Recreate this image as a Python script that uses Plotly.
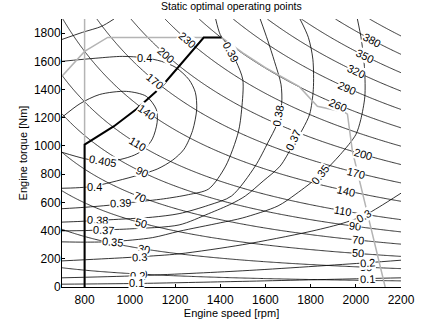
import math
import numpy as np
import plotly.graph_objects as go

# ---------------- data ----------------
speed_ticks = [800, 1000, 1200, 1400, 1600, 1800, 2000, 2200]
torque_ticks = [0, 200, 400, 600, 800, 1000, 1200, 1400, 1600, 1800]

# iso-power levels [kW]
power_levels_low = [10, 30, 50, 70, 90, 110]
power_levels_high = [140, 170, 200, 230, 260, 290, 320, 350, 380, 410]

# iso-efficiency lines (speed [rpm], torque [Nm])
eff_0405_speed = [700, 800, 880, 960, 1020, 1064, 1100, 1121, 1117, 1073, 985, 867, 780, 700]
eff_0405_torque = [955, 910, 890, 905, 935, 977, 1050, 1167, 1260, 1352, 1387, 1365, 1300, 1203]

eff_040_speed = [700, 760, 832, 917, 1020, 1121, 1190, 1240, 1278, 1296, 1290, 1262, 1204, 1140, 1065, 968, 850, 700]
eff_040_torque = [700, 703, 712, 742, 785, 836, 900, 977, 1110, 1260, 1380, 1470, 1556, 1600, 1625, 1635, 1622, 1600]

eff_039_speed = [700, 800, 910, 1011, 1150, 1260, 1349, 1424, 1480, 1495, 1500, 1470, 1430, 1400, 1380]
eff_039_torque = [555, 565, 580, 600, 625, 655, 695, 857, 1097, 1260, 1470, 1600, 1720, 1790, 1900]
eff_039b_speed = [700, 790, 875, 930]
eff_039b_torque = [1755, 1805, 1848, 1900]

eff_038_speed = [700, 780, 855, 950, 1100, 1218, 1349, 1450, 1555, 1612, 1650, 1672, 1669, 1640, 1610, 1577]
eff_038_torque = [460, 465, 472, 480, 495, 520, 580, 645, 857, 1027, 1150, 1300, 1437, 1600, 1750, 1900]

eff_037_speed = [700, 800, 882, 1000, 1218, 1349, 1450, 1511, 1590, 1665, 1720, 1765, 1796, 1812, 1810, 1790, 1753]
eff_037_torque = [398, 400, 405, 412, 440, 520, 590, 645, 751, 857, 1000, 1120, 1226, 1400, 1615, 1770, 1900]

eff_035_speed = [700, 800, 925, 1100, 1218, 1400, 1500, 1656, 1735, 1842, 1932, 2000, 2022, 2040, 2039, 2025, 2007]
eff_035_torque = [320, 318, 322, 350, 395, 455, 490, 575, 659, 792, 940, 1080, 1187, 1350, 1540, 1750, 1900]

eff_030_speed = [700, 968, 1050, 1218, 1500, 1788, 1932, 2035, 2103, 2200]
eff_030_torque = [185, 207, 215, 235, 300, 390, 447, 505, 567, 665]

eff_020_speed = [700, 1035, 1500, 2050, 2200]
eff_020_torque = [65, 80, 115, 172, 190]

eff_010_speed = [700, 1030, 1500, 2050, 2200]
eff_010_torque = [20, 25, 40, 60, 65]

# full-load envelope (grey) and static optimal operating line (black)
envelope_speed = [700, 800, 902, 1406, 1500, 1600, 1750, 1800, 1830, 1950, 1963, 1985, 2130]
envelope_torque = [1495, 1670, 1769, 1769, 1660, 1555, 1420, 1331, 1281, 1239, 1225, 963, 0]
idle_speed = [800, 800]
idle_torque = [0, 1900]
optimal_speed = [800, 800, 930, 1030, 1140, 1230, 1327, 1406]
optimal_torque = [0, 1010, 1140, 1262, 1420, 1590, 1769, 1769]

# contour label places
power_label_speeds = {
    10: [1050, 2040], 30: [1065, 2045], 50: [1050, 2010], 70: [1045, 2010],
    90: [1055, 1995], 110: [1035, 1945], 140: [1075, 1955], 170: [1110, 2000],
    200: [1160, 2030], 230: [1255], 260: [1920], 290: [1960], 320: [2000],
    350: [2040], 380: [2070],
}
eff_labels = [
    ("0.405", 880, 890, 10), ("0.4", 843, 712, 0), ("0.4", 1065, 1625, 0),
    ("0.39", 960, 597, -3), ("0.39", 1447, 1665, 62),
    ("0.38", 855, 474, 3), ("0.38", 1655, 1215, -80),
    ("0.37", 882, 405, 3), ("0.37", 1722, 1045, -65),
    ("0.35", 925, 322, 5), ("0.35", 1842, 792, -52),
    ("0.3", 1045, 212, -3), ("0.3", 2035, 505, -30),
    ("0.2", 1035, 80, 0), ("0.2", 2050, 172, -5),
    ("0.1", 1030, 28, 0), ("0.1", 2050, 60, -3),
]

# ---------------- figure ----------------
X_RANGE = [700, 2200]
Y_RANGE = [0, 1900]
W, H = 427, 327
ML, MR, MT, MB = 62, 23, 19, 39
PLOT_H = H - MT - MB
px_per_rpm = (W - ML - MR) / (X_RANGE[1] - X_RANGE[0])
px_per_nm = PLOT_H / (Y_RANGE[1] - Y_RANGE[0])

FONT = "Liberation Sans, Arial, Helvetica, sans-serif"
fig = go.Figure()

# iso-power lines: P = 2*pi*n*T/60 / 1000
grid_speed = np.linspace(700, 2200, 301)
grid_torque = np.linspace(0, 1900, 381)
S, T = np.meshgrid(grid_speed, grid_torque)
power_kw = 2 * np.pi * S * T / 60.0 / 1000.0

for levels in (power_levels_low, power_levels_high):
    fig.add_trace(go.Contour(
        x=grid_speed, y=grid_torque, z=power_kw,
        contours=dict(coloring="lines", start=levels[0], end=levels[-1],
                      size=levels[1] - levels[0], showlabels=False),
        colorscale=[[0, "black"], [1, "black"]], showscale=False,
        line=dict(width=0.8), hoverinfo="skip",
    ))

eff_lines = [
    (eff_0405_speed, eff_0405_torque), (eff_040_speed, eff_040_torque),
    (eff_039_speed, eff_039_torque), (eff_039b_speed, eff_039b_torque),
    (eff_038_speed, eff_038_torque), (eff_037_speed, eff_037_torque),
    (eff_035_speed, eff_035_torque), (eff_030_speed, eff_030_torque),
    (eff_020_speed, eff_020_torque), (eff_010_speed, eff_010_torque),
]
for xs, ys in eff_lines:
    fig.add_trace(go.Scatter(x=xs, y=ys, mode="lines",
                             line=dict(color="black", width=0.8, shape="spline", smoothing=0.8),
                             hoverinfo="skip", showlegend=False))

fig.add_trace(go.Scatter(x=idle_speed, y=idle_torque, mode="lines",
                         line=dict(color="#b4b4b4", width=1.5), showlegend=False))
fig.add_trace(go.Scatter(x=envelope_speed, y=envelope_torque, mode="lines",
                         line=dict(color="#b4b4b4", width=1.5), showlegend=False))
fig.add_trace(go.Scatter(x=optimal_speed, y=optimal_torque, mode="lines",
                         line=dict(color="black", width=2), showlegend=False))

annotations = []
lab_font = dict(family=FONT, size=11, color="black")
for level, speeds in power_label_speeds.items():
    for n in speeds:
        tq = level * 1000 * 60 / (2 * math.pi * n)
        ang = math.degrees(math.atan(tq / n * px_per_nm / px_per_rpm))
        annotations.append(dict(x=n, y=tq, text=str(level), showarrow=False,
                                textangle=ang, font=lab_font, bgcolor="white",
                                borderpad=0, xanchor="center", yanchor="middle"))
for txt, n, tq, ang in eff_labels:
    annotations.append(dict(x=n, y=tq, text=txt, showarrow=False, textangle=ang,
                            font=lab_font, bgcolor="white", borderpad=0,
                            xanchor="center", yanchor="middle"))

# title as a paper annotation (centre about 6 px below the top edge)
annotations.append(dict(text="Static optimal operating points", xref="paper", yref="paper",
                        x=0.5, y=1 + (MT - 6) / PLOT_H, xanchor="center", yanchor="middle",
                        showarrow=False, font=dict(family=FONT, size=10.5, color="black")))

fig.update_layout(
    width=W, height=H,
    margin=dict(l=ML, r=MR, t=MT, b=MB, pad=0),
    paper_bgcolor="white", plot_bgcolor="white",
    showlegend=False,
    font=dict(family=FONT, size=12, color="black"),
    annotations=annotations,
)
fig.update_xaxes(range=X_RANGE, tickvals=speed_ticks, ticks="inside", ticklen=3,
                 tickcolor="black", showline=True, linecolor="black", linewidth=1,
                 mirror=False, showgrid=False, zeroline=False,
                 ticklabelstandoff=2,
                 tickfont=dict(family=FONT, size=12),
                 title=dict(text="Engine speed [rpm]", standoff=0,
                            font=dict(family=FONT, size=11)))
fig.update_yaxes(range=Y_RANGE, tickvals=torque_ticks, ticks="inside", ticklen=3,
                 tickcolor="black", showline=True, linecolor="black", linewidth=1,
                 mirror=False, showgrid=False, zeroline=False,
                 ticklabelstandoff=-2,
                 tickfont=dict(family=FONT, size=12),
                 title=dict(text="Engine torque [Nm]", standoff=4,
                            font=dict(family=FONT, size=11)))

# the page's default 8 px body margin would shift the figure; remove it
fig.write_html("out.html",
               config={"displayModeBar": False},
               post_script="document.body.style.margin='0';document.body.style.overflow='hidden';")
